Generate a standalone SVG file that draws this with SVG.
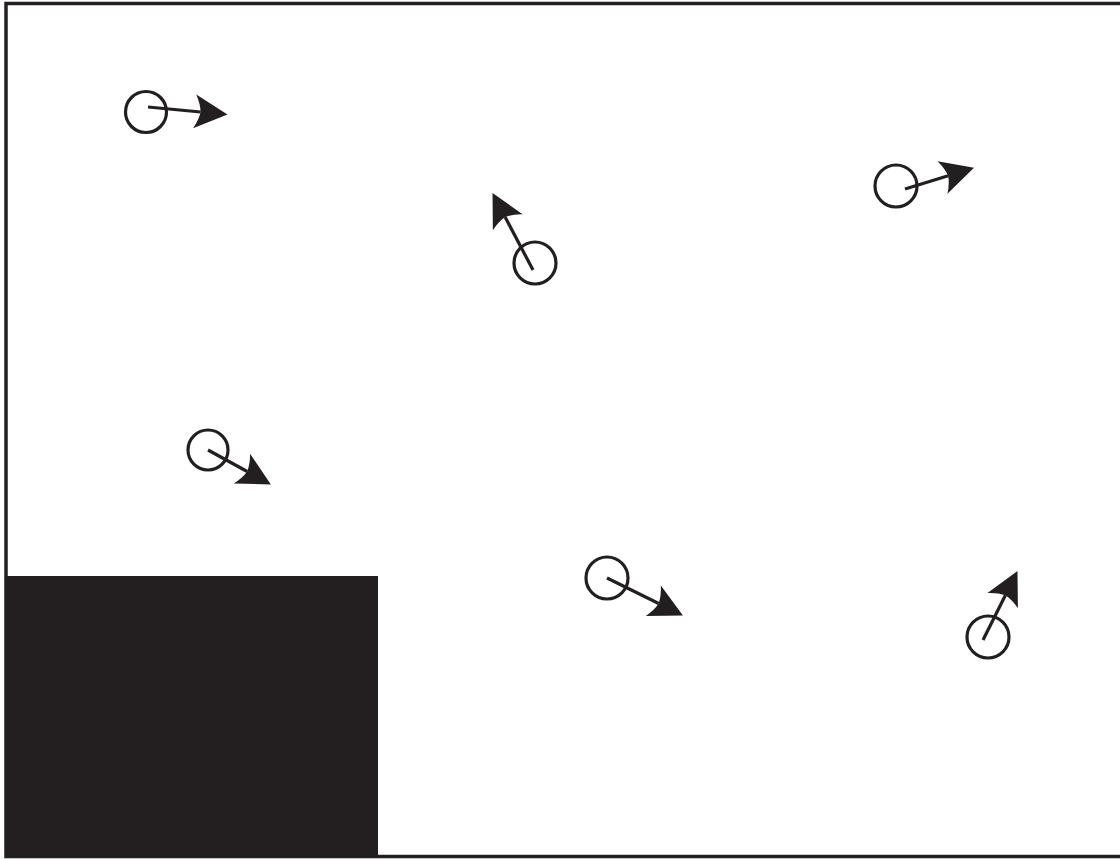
<svg xmlns="http://www.w3.org/2000/svg" width="1120" height="859" viewBox="0 0 1120 859">
<style>
.c{fill:none;stroke:#231f20;stroke-width:3.2}
.a{fill:none;stroke:#231f20;stroke-width:3.2;marker-end:url(#ah)}
</style>
<defs>
<marker id="ah" markerUnits="userSpaceOnUse" orient="auto" refX="0" refY="0" markerWidth="40" markerHeight="40" overflow="visible">
<path d="M27,0 L-6,-17 Q-1,-8 0,0 Q-1,8 -6,17 Z" fill="#231f20"/>
</marker>
</defs>
<rect width="1120" height="859" fill="#fff"/>
<rect x="6" y="3.5" width="1130" height="853" fill="none" stroke="#231f20" stroke-width="3.5"/>
<rect id="block" x="6" y="576" width="372" height="282" fill="#231f20"/>
<g id="p1"><circle class="c" cx="146" cy="112" r="20.5"/></g>
<g id="p2"><circle class="c" cx="535" cy="263" r="21"/></g>
<g id="p3"><circle class="c" cx="896" cy="186" r="21"/></g>
<g id="p4"><circle class="c" cx="208" cy="450" r="20"/></g>
<g id="p5"><circle class="c" cx="607" cy="578" r="21"/></g>
<g id="p6"><circle class="c" cx="988" cy="637" r="21"/></g>
<g id="connectors">
<line class="a" x1="148" y1="107" x2="200.6" y2="112"/>
<line class="a" x1="533" y1="270" x2="505.1" y2="217"/>
<line class="a" x1="905" y1="189" x2="948.2" y2="175.7"/>
<line class="a" x1="208" y1="450" x2="247.2" y2="471.5"/>
<line class="a" x1="607" y1="578" x2="658.7" y2="603.5"/>
<line class="a" x1="983" y1="640" x2="1005.4" y2="595.2"/>
</g>
</svg>
